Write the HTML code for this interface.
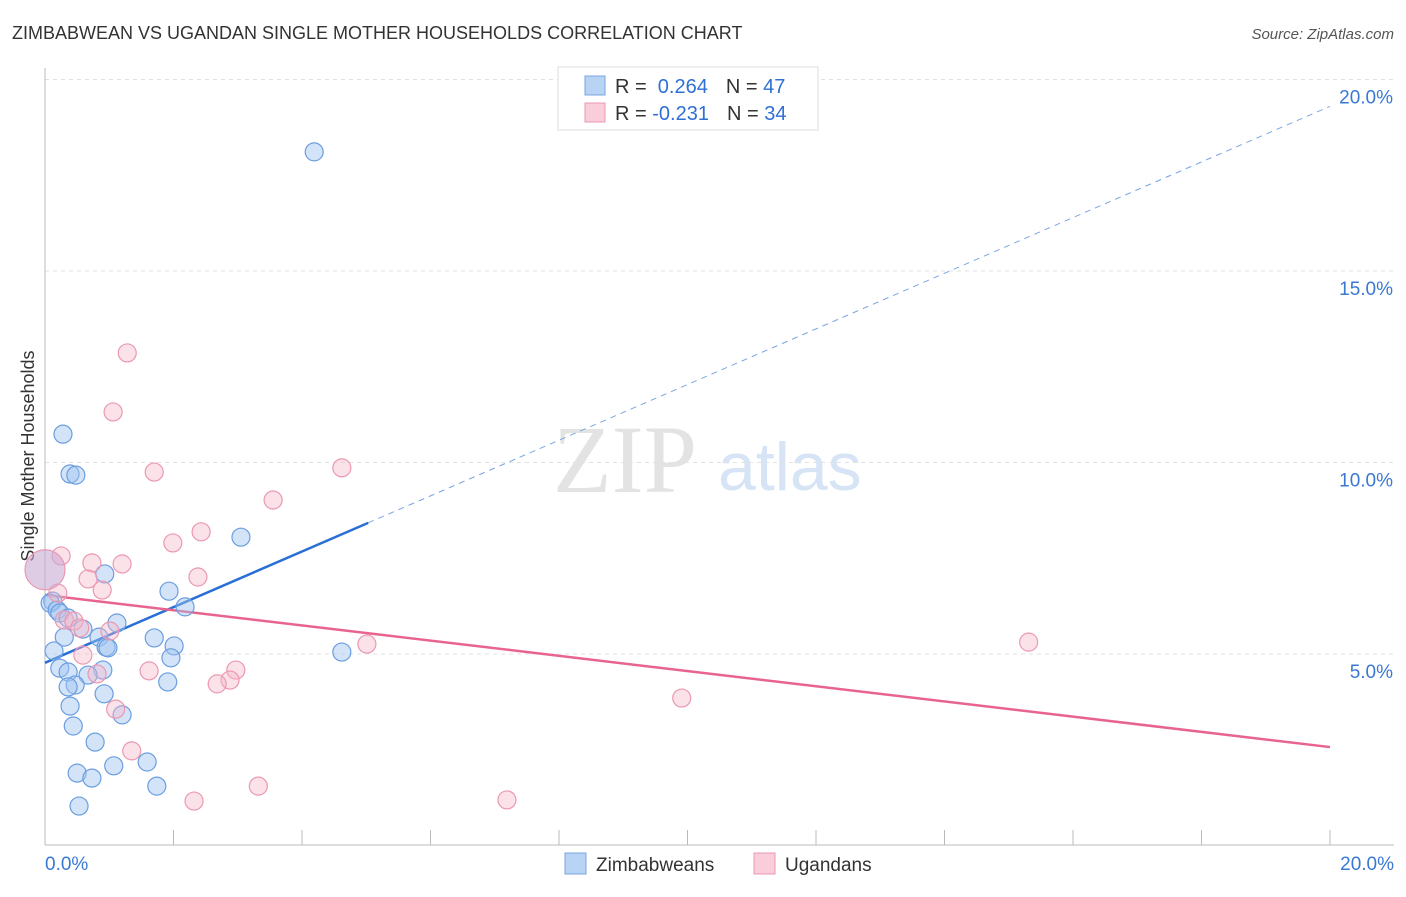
<!DOCTYPE html>
<html><head><meta charset="utf-8"><style>
body{margin:0;background:#fff;font-family:"Liberation Sans",sans-serif}
</style></head><body>
<svg width="1406" height="892" xmlns="http://www.w3.org/2000/svg" font-family="Liberation Sans, sans-serif">
<text x="12" y="39" font-size="18" fill="#333">ZIMBABWEAN VS UGANDAN SINGLE MOTHER HOUSEHOLDS CORRELATION CHART</text>
<text x="1394" y="39" font-size="15" fill="#555" text-anchor="end" font-style="italic">Source: ZipAtlas.com</text>
<text x="553" y="492" font-size="96" font-family="Liberation Serif, serif" fill="#e3e3e3">ZIP</text>
<text x="718" y="490" font-size="68" fill="#d6e4f5">atlas</text>
<text transform="translate(34,456) rotate(-90)" font-size="18" fill="#333" text-anchor="middle">Single Mother Households</text>
<g id="grid"></g><g id="axes"></g><g id="trends"></g><g id="pts"></g>
<g>
<rect x="558" y="67" width="260" height="63" fill="#fff" stroke="#ddd"/>
<rect x="585" y="76" width="20" height="19" fill="#b9d3f5" stroke="#7aa6e0"/>
<rect x="585" y="103" width="20" height="19" fill="#f9cdd9" stroke="#eb98b2"/>
<text x="615" y="93" font-size="20" fill="#333">R = <tspan fill="#2f6fd6">&#160;0.264</tspan><tspan dx="18">N = </tspan><tspan fill="#2f6fd6">47</tspan></text>
<text x="615" y="120" font-size="20" fill="#333">R = <tspan fill="#2f6fd6">-0.231</tspan><tspan dx="18">N = </tspan><tspan fill="#2f6fd6">34</tspan></text>
</g>
<g>
<rect x="565" y="853" width="21" height="21" fill="#b9d3f5" stroke="#7aa6e0"/>
<text x="596" y="871" font-size="19" fill="#333">Zimbabweans</text>
<rect x="754" y="853" width="21" height="21" fill="#f9cdd9" stroke="#eb98b2"/>
<text x="785" y="871" font-size="19" fill="#333">Ugandans</text>
</g>
</svg>
<script>
const yTicks=[5,10,15,20];
const yTickLabels=["5.0%","10.0%","15.0%","20.0%"];
const xEdgeLabels=["0.0%","20.0%"];
const blueX=[4.19,0.28,0.39,0.48,3.05,0.93,1.93,2.18,0.12,0.08,0.19,0.23,0.36,1.12,0.59,0.84,0.30,1.70,2.01,0.95,0.98,1.96,0.14,4.62,0.23,0.36,0.90,0.67,0.47,1.91,0.36,0.92,0.39,1.20,0.44,0.78,1.07,1.59,0.50,0.73,1.74,0.53];
const blueY=[18.11,10.74,9.70,9.67,8.05,7.09,6.64,6.23,6.38,6.33,6.15,6.07,5.94,5.81,5.65,5.44,5.44,5.42,5.21,5.18,5.16,4.90,5.08,5.05,4.63,4.53,4.58,4.45,4.19,4.27,4.14,3.96,3.64,3.41,3.12,2.70,2.08,2.18,1.89,1.76,1.55,1.03];
const pinkX=[1.28,1.06,1.70,4.62,3.55,2.43,1.99,0.25,0.73,1.20,0.67,2.38,0.89,0.20,0.30,0.45,0.54,1.01,0.59,0.81,1.62,2.97,2.88,2.68,5.01,15.31,9.91,1.10,1.35,2.32,3.32,7.19,0.0];
const pinkY=[12.86,11.32,9.75,9.86,9.02,8.19,7.90,7.56,7.38,7.35,6.96,7.01,6.67,6.59,5.89,5.86,5.68,5.60,4.97,4.48,4.56,4.58,4.32,4.22,5.26,5.31,3.85,3.56,2.47,1.16,1.55,1.19,7.2];
const blueTrend=[4.77,19.3];
const pinkTrend=[6.54,2.57];
const blueSolidEnd=5.03;
const NS="http://www.w3.org/2000/svg";
const X=v=>45+v/20*1285, Y=v=>845.5-v/5*191.5;
function mk(t,a,p){const e=document.createElementNS(NS,t);for(const k in a)e.setAttribute(k,a[k]);document.getElementById(p).appendChild(e);return e;}
yTicks.forEach((t,i)=>{
 const g=mk('line',{x1:45,x2:1394,y1:Y(t),y2:Y(t),stroke:'#e2e2e2','stroke-dasharray':'4,4'},'grid');
 
 
 const l=mk('text',{x:1393,y:Y(t)+24,'font-size':19,fill:'#3a78d4','text-anchor':'end'},'grid');
 l.textContent=yTickLabels[i];
 
 
});
const ax=mk('line',{x1:45,x2:45,y1:68,y2:845,stroke:'#bbb'},'axes');


const bx=mk('line',{x1:45,x2:1394,y1:845,y2:845,stroke:'#bbb'},'axes');


for(let i=1;i<=10;i++){
 const t=mk('line',{x1:X(i*2),x2:X(i*2),y1:830,y2:845,stroke:'#bbb'},'axes');
 
 
}
[[0,'start',45],[20,'end',1394]].forEach((d,i)=>{
 const t=mk('text',{x:d[2],y:870,'font-size':19,fill:'#3a78d4','text-anchor':d[1]},'axes');
 t.textContent=xEdgeLabels[i];
 
 
});
const yb=x=>blueTrend[0]+(blueTrend[1]-blueTrend[0])*x/20;
const t1=mk('line',{x1:X(0),y1:Y(yb(0)),x2:X(blueSolidEnd),y2:Y(yb(blueSolidEnd)),stroke:'#2a6fd6','stroke-width':2.5},'trends');


const t2=mk('line',{x1:X(blueSolidEnd),y1:Y(yb(blueSolidEnd)),x2:X(20),y2:Y(yb(20)),stroke:'#7aa6e0','stroke-width':1,'stroke-dasharray':'6,5'},'trends');


const t3=mk('line',{x1:X(0),y1:Y(pinkTrend[0]),x2:X(20),y2:Y(pinkTrend[1]),stroke:'#e8648f','stroke-width':2.5},'trends');


blueX.forEach((x,i)=>{
 const c=mk('circle',{cx:X(x),cy:Y(blueY[i]),r:9,fill:'rgba(160,196,240,0.45)',stroke:'#6a9ee0','stroke-width':1.2},'pts');
 
 
});
pinkX.forEach((x,i)=>{
 const c=mk('circle',{cx:X(x),cy:Y(pinkY[i]),r:i==pinkX.length-1?20:9,fill:i==pinkX.length-1?'rgba(200,170,210,0.6)':'rgba(246,182,200,0.4)',stroke:'#eb98b2','stroke-width':1.2},'pts');
 
 
});
</script>
</body></html>
